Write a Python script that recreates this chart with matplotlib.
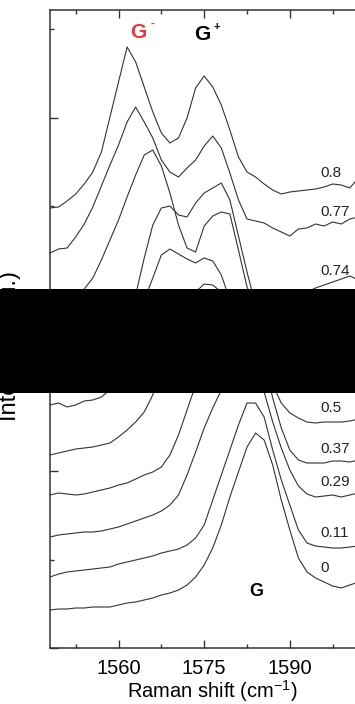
import matplotlib
matplotlib.use("Agg")
import matplotlib.pyplot as plt
from matplotlib.patches import Rectangle
from matplotlib.ticker import MultipleLocator, FixedLocator

plt.rcParams['font.family'] = ['Liberation Sans', 'DejaVu Sans']
plt.rcParams['mathtext.fontset'] = 'custom'
plt.rcParams['mathtext.rm'] = 'Liberation Sans'

# Raman shift grid (cm^-1)
shift = [1548.0, 1549.5, 1551.0, 1552.5, 1554.0, 1555.5, 1557.0, 1558.5, 1560.0,
         1561.5, 1563.0, 1564.5, 1566.0, 1567.5, 1569.0, 1570.5, 1572.0, 1573.5,
         1575.0, 1576.5, 1578.0, 1579.5, 1581.0, 1582.5, 1584.0, 1585.5, 1587.0,
         1588.5, 1590.0, 1591.5, 1593.0, 1594.5, 1596.0, 1597.5, 1599.0, 1600.5,
         1602.0, 1603.5, 1605.0]

# stacked spectra (a.u., already offset), top to bottom
s080 = [440, 441, 447, 454, 464, 476, 496, 531, 566, 601, 586, 561, 536, 515, 505, 510, 530, 560, 572, 561,
        543, 518, 491, 476, 471, 464, 458, 454, 456, 457, 458, 459, 461, 464, 463, 460, 470, 476, 480]
s077 = [395, 399, 400, 411, 424, 441, 462, 483, 503, 526, 541, 526, 510, 488, 476, 471, 480, 488, 502, 512,
        500, 475, 448, 429, 427, 425, 420, 416, 412, 419, 420, 424, 422, 426, 424, 429, 431, 435, 439]
s074 = [343, 345, 348, 352, 359, 370, 388, 408, 428, 451, 473, 493, 498, 482, 455, 423, 400, 396, 422, 432,
        436, 434, 398, 361, 343, 336, 334, 336, 342, 348, 356, 360, 363, 366, 369, 372, 368, 371, 374]
s_mid1 = [298, 300, 302, 305, 308, 312, 318, 326, 336, 347, 353, 390, 423, 440, 442, 433, 431, 445, 455, 460,
          465, 448, 412, 376, 343, 318, 306, 301, 300, 302, 306, 310, 313, 316, 319, 322, 325, 328, 331]
s_mid2 = [243, 245, 241, 243, 247, 248, 251, 258, 273, 296, 323, 348, 370, 393, 399, 394, 389, 385, 390, 387,
          373, 348, 318, 293, 273, 263, 258, 256, 257, 258, 260, 262, 264, 266, 268, 270, 272, 274, 276]
s050 = [193, 195, 197, 199, 200, 201, 203, 205, 211, 218, 226, 236, 253, 278, 308, 333, 348, 356, 364, 363,
        356, 348, 348, 343, 330, 298, 263, 245, 235, 230, 226, 225, 226, 226, 226, 227, 229, 231, 233]
s037 = [153, 155, 154, 153, 154, 156, 158, 160, 163, 165, 169, 173, 176, 181, 193, 213, 238, 263, 288, 308,
        318, 323, 326, 323, 313, 288, 250, 220, 198, 188, 185, 185, 185, 187, 187, 186, 188, 190, 192]
s029 = [111, 113, 114, 115, 116, 116, 117, 119, 121, 124, 127, 130, 133, 137, 143, 153, 173, 196, 220, 240,
        258, 276, 288, 293, 286, 256, 226, 200, 178, 162, 154, 151, 152, 153, 151, 153, 155, 157, 159]
s011 = [71, 74, 76, 77, 78, 79, 80, 81, 84, 86, 88, 90, 92, 95, 97, 99, 103, 110, 123, 148,
        173, 198, 223, 245, 245, 231, 198, 168, 143, 118, 105, 102, 101, 100, 100, 101, 102, 103, 104]
s000 = [38, 39, 39, 40, 40, 41, 41, 41, 43, 45, 46, 48, 50, 53, 55, 58, 63, 71, 83, 100,
        123, 151, 176, 201, 215, 208, 183, 148, 118, 90, 76, 70, 66, 62, 60, 63, 66, 68, 70]

spectra = [s080, s077, s074, s_mid1, s_mid2, s050, s037, s029, s011, s000]
fractions = ["0.8", "0.77", "0.74", None, None, "0.5", "0.37", "0.29", "0.11", "0"]

fig = plt.figure(figsize=(3.55, 7.04), dpi=100)
ax = fig.add_axes([50 / 355, 56 / 704, 325.5 / 355, 638 / 704])

line_col = '#333333'
idx = shift.index(1596.0)
for spec, frac in zip(spectra, fractions):
    ax.plot(shift, spec, color=line_col, lw=0.8)
    if frac is not None:
        # label sits just above the tail of each spectrum
        ax.annotate(frac, xy=(1595.3, spec[idx]), xytext=(0, 10),
                    textcoords='offset points', fontsize=11, va='center',
                    ha='left', color='#222222')

ax.set_xlim(1548, 1605)
ax.set_ylim(0, 638)

ax.xaxis.set_major_locator(FixedLocator([1560, 1575, 1590]))
ax.xaxis.set_minor_locator(MultipleLocator(7.5))
ax.yaxis.set_major_locator(MultipleLocator(176.8))
ax.yaxis.set_minor_locator(MultipleLocator(88.4))
ax.tick_params(which='both', direction='in', top=True, right=False,
               color='#333333', width=1.0)
ax.tick_params(which='major', length=6, labelsize=14.5, pad=8)
ax.tick_params(which='minor', length=3)
ax.tick_params(axis='y', labelleft=False)
for sp in ax.spines.values():
    sp.set_linewidth(1.1)
    sp.set_color('#333333')

ax.set_xlabel("Raman shift (cm$^{-1}$)", fontsize=14.5, labelpad=0)
ax.set_ylabel("Intensity (a.u.)", fontsize=17)
ax.yaxis.set_label_coords(-0.088, 0.474)

# band labels
ax.text(1563.4, 616, "G", color='#e53935', fontsize=15, fontweight='bold',
        ha='center', va='center')
ax.text(1566.0, 624, "-", color='#e53935', fontsize=8, fontweight='bold',
        ha='center', va='center')
ax.text(1574.7, 613, "G", color='black', fontsize=15, fontweight='bold',
        ha='center', va='center')
ax.text(1577.2, 621, "+", color='black', fontsize=8, fontweight='bold',
        ha='center', va='center')
ax.text(1584.1, 56, "G", color='black', fontsize=13, fontweight='bold',
        ha='center', va='center')

# opaque band across the middle of the figure
fig.add_artist(Rectangle((0, (704 - 393) / 704), 1, 104 / 704,
                         transform=fig.transFigure, facecolor='black',
                         edgecolor='none', zorder=10))

fig.savefig("out.png", dpi=100)
